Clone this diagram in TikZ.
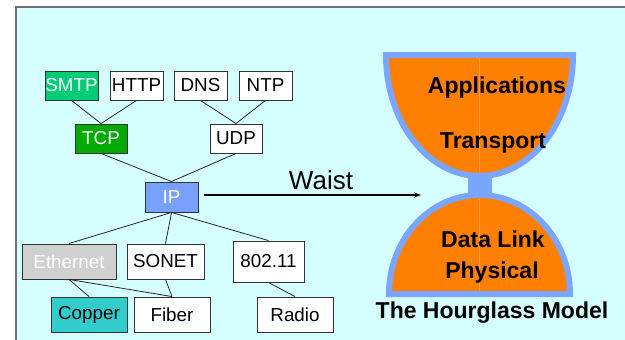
\documentclass[tikz,border=0pt]{standalone}
\usepackage{fontspec}
\setmainfont{Liberation Sans}
\usetikzlibrary{arrows.meta}
\definecolor{bgc}{HTML}{D5FFFF}
\definecolor{framec}{HTML}{707070}
\definecolor{smtpc}{HTML}{00CC77}
\definecolor{tcpc}{HTML}{00AA00}
\definecolor{ipc}{HTML}{77A0FF}
\definecolor{ethc}{HTML}{D0D0D0}
\definecolor{copc}{HTML}{33CCCC}
\definecolor{hgblue}{HTML}{7BA6FF}
\definecolor{hgorange}{HTML}{FF7F00}
\definecolor{boxline}{HTML}{333333}
\tikzset{
  proto/.style={draw=boxline, line width=0.9pt, fill=white, inner sep=0pt,
    font=\fontsize{18.8}{20}\selectfont, text=black},
  link/.style={line width=0.8pt, draw=black!85},
  hglabel/.style={font=\fontsize{23}{24}\selectfont\bfseries, text=black},
  bowl/.style={draw=hgblue, line width=6pt, fill=hgorange, line join=miter}
}
\begin{document}
\begin{tikzpicture}[x=1pt,y=-1pt]
\useasboundingbox (0,0) rectangle (625,340);
\begin{scope}
\clip (0,0) rectangle (625,340);
\draw[framec, line width=1.2pt, fill=bgc] (16,7) rectangle (660,380);

% hourglass
\draw[bowl] (386,55) -- (573,55) arc[start angle=0, end angle=-180, x radius=93.5pt, y radius=121pt] -- cycle;
\draw[bowl] (389,294) arc[start angle=180, end angle=0, x radius=90.5pt, y radius=99pt] -- cycle;
\fill[hgblue] (468,177) rectangle (492,195);
\draw[hgorange!75!white, line width=0.3pt] (479.5,58) -- (479.5,172);
\draw[hgorange!75!white, line width=0.3pt] (479.5,199) -- (479.5,291);

\node[hglabel] (app) at (497,88) {Applications};
\node[hglabel] (trn) at (493,143) {Transport};
\node[hglabel] (dl) at (493,239) {Data Link};
\node[hglabel] (phy) at (492,273) {Physical};
\node[hglabel] (title) at (492,313) {The Hourglass Model};

% protocol boxes
\node[proto, fill=smtpc, text=white, minimum width=53pt, minimum height=29pt] (smtp) at (71.5,85.5) {SMTP};
\node[proto, minimum width=53pt, minimum height=29pt] (http) at (136.5,85.5) {HTTP};
\node[proto, minimum width=53pt, minimum height=29pt] (dns) at (200.5,85.5) {DNS};
\node[proto, minimum width=53pt, minimum height=29pt] (ntp) at (265.5,85.5) {NTP};
\node[proto, fill=tcpc, text=white, minimum width=52pt, minimum height=29pt] (tcp) at (101,138.5) {TCP};
\node[proto, minimum width=52pt, minimum height=29pt] (udp) at (236,138.5) {UDP};
\node[proto, fill=ipc, text=white, minimum width=53pt, minimum height=30pt] (ip) at (171.5,197) {IP};
\node[proto, fill=ethc, text=white, minimum width=94pt, minimum height=35pt] (eth) at (69,261.5) {Ethernet};
\node[proto, minimum width=77pt, minimum height=35pt] (sonet) at (165.5,261.5) {SONET};
\node[proto, minimum width=71pt, minimum height=41pt] (wifi) at (268.5,261.5) {802.11};
\node[proto, fill=copc, minimum width=76pt, minimum height=35pt] (copper) at (89,314.5) {Copper};
\node[proto, minimum width=76pt, minimum height=35pt] (fiber) at (172,314.5) {Fiber};
\node[proto, minimum width=76pt, minimum height=35pt] (radio) at (295,314.5) {Radio};

% connectors
\draw[link] (smtp.south) -- (tcp.north);
\draw[link] (http.south) -- (tcp.north);
\draw[link] (dns.south) -- (udp.north);
\draw[link] (ntp.south) -- (udp.north);
\draw[link] (tcp.south) -- (ip.north);
\draw[link] (udp.south) -- (ip.north);
\draw[link] (ip.south) -- (eth.north);
\draw[link] (ip.south) -- (sonet.north);
\draw[link] (ip.south) -- (wifi.north);
\draw[link] (eth.south) -- (copper.north);
\draw[link] (eth.south) -- (fiber.north);
\draw[link] (sonet.south) -- (fiber.north);
\draw[link] (wifi.south) -- (radio.north);

% waist arrow
\coordinate (waistend) at (421,195);
\draw[line width=1.1pt, -{Stealth[length=7pt,width=5pt]}] ([xshift=6pt,yshift=2pt]ip.east) -- (waistend);
\node[font=\fontsize{26}{28}\selectfont] (waist) at (321,180) {Waist};
\end{scope}
\end{tikzpicture}
\end{document}
